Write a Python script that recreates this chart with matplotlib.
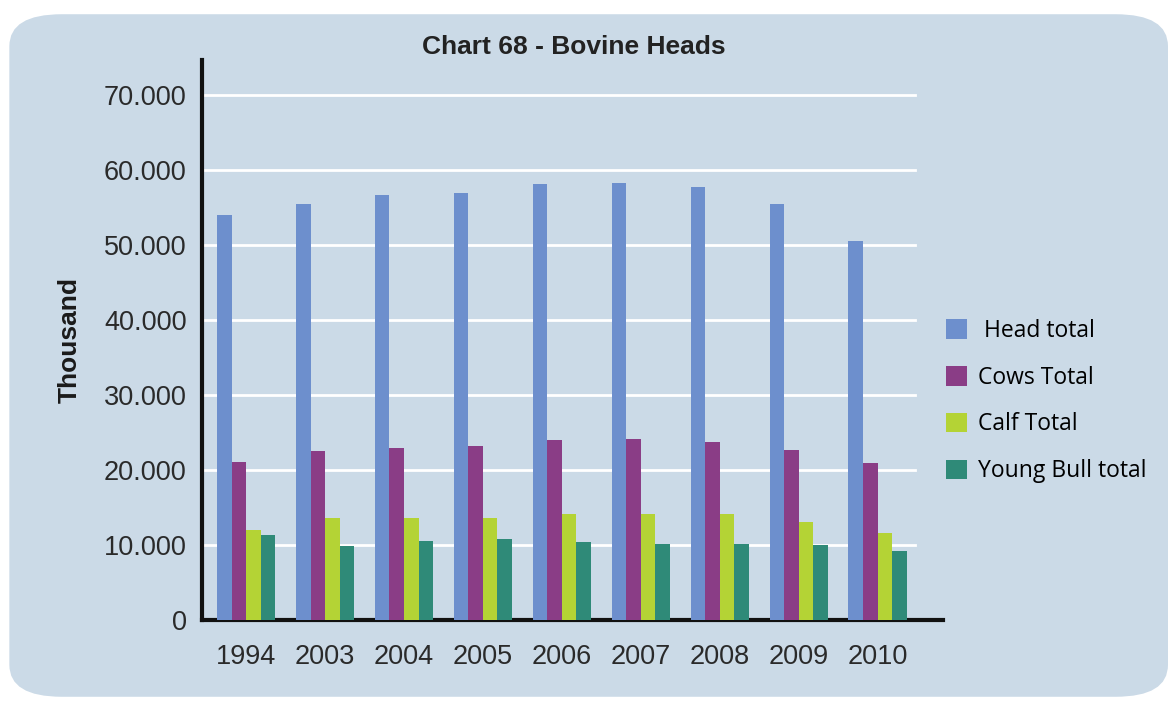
import numpy as np
import matplotlib
matplotlib.use("Agg")
import matplotlib.pyplot as plt
from matplotlib.patches import FancyBboxPatch

plt.rcParams['font.family'] = ['Liberation Sans', 'DejaVu Sans']

# データ（単位：千頭）
years = ["1994", "2003", "2004", "2005", "2006", "2007", "2008", "2009", "2010"]
head_total = [54000, 55450, 56700, 56900, 58200, 58350, 57800, 55450, 50550]
cows_total = [21100, 22600, 22900, 23250, 24000, 24150, 23700, 22700, 21000]
calf_total = [12000, 13550, 13550, 13550, 14100, 14100, 14100, 13100, 11550]
young_bull_total = [11300, 9850, 10550, 10750, 10350, 10150, 10150, 9950, 9200]

series_names = [" Head total", "Cows Total", "Calf Total", "Young Bull total"]
colors = ["#6d8fcd", "#8a3d86", "#b4d335", "#2f8a78"]
yticks = [0, 10000, 20000, 30000, 40000, 50000, 60000, 70000]
ytick_labels = ["0", "10.000", "20.000", "30.000", "40.000", "50.000", "60.000", "70.000"]

bg = "#cbdae7"

# 画像準備
fig = plt.figure(figsize=(11.68, 7.11), dpi=100)
fig.patch.set_facecolor("white")
panel = FancyBboxPatch((0.008, 0.02), 0.992, 0.96,
                       boxstyle="round,pad=0,rounding_size=0.045",
                       transform=fig.transFigure, facecolor=bg,
                       edgecolor="none", zorder=-10)
fig.patches.append(panel)

W, H = 1168, 711
ax = fig.add_axes([202 / W, 1 - 620 / H, (943 - 202) / W, (620 - 60) / H])
ax.set_facecolor("none")
ax.set_zorder(1)

x = np.arange(len(years))
bw = 0.184
data = [head_total, cows_total, calf_total, young_bull_total]
for i, (vals, name, c) in enumerate(zip(data, series_names, colors)):
    ax.bar(x + (i - 1.5) * bw, vals, width=bw, color=c, label=name, zorder=3)

ax.set_xlim(-0.56, 8.83)
ax.set_ylim(0, 74700)

# 横線（グリッド）
for t in yticks[1:]:
    ax.axhline(t, xmin=0.0, xmax=(915 - 202) / (943 - 202), color="white",
               lw=2, zorder=1)

ax.set_yticks(yticks)
ax.set_yticklabels(ytick_labels, fontsize=19.5, color="#2a2a2a")
ax.set_xticks(x)
ax.set_xticklabels(years, fontsize=19.5, color="#2a2a2a")
ax.tick_params(axis="both", length=0)
ax.tick_params(axis="y", pad=11)
ax.tick_params(axis="x", pad=17)

for s in ["top", "right"]:
    ax.spines[s].set_visible(False)
ax.spines["left"].set_linewidth(3)
ax.spines["bottom"].set_linewidth(3)
ax.spines["left"].set_color("#111111")
ax.spines["bottom"].set_color("#111111")

ax.set_ylabel("Thousand", fontsize=19, fontweight="bold", labelpad=16,
              color="#1a1a1a")
fig.text(574 / W, 1 - 47 / H, "Chart 68 - Bovine Heads", ha="center",
         va="center", fontsize=19, fontweight="bold", color="#222222")

leg = ax.legend(loc="center left", bbox_to_anchor=(925 / W, 1 - 401 / H),
                bbox_transform=fig.transFigure, frameon=False,
                prop={"family": "Open Sans", "size": 16.5},
                handlelength=0.95, handleheight=0.95, labelspacing=1.0,
                handletextpad=0.45)

fig.savefig("out.png", dpi=100, facecolor=fig.get_facecolor())
